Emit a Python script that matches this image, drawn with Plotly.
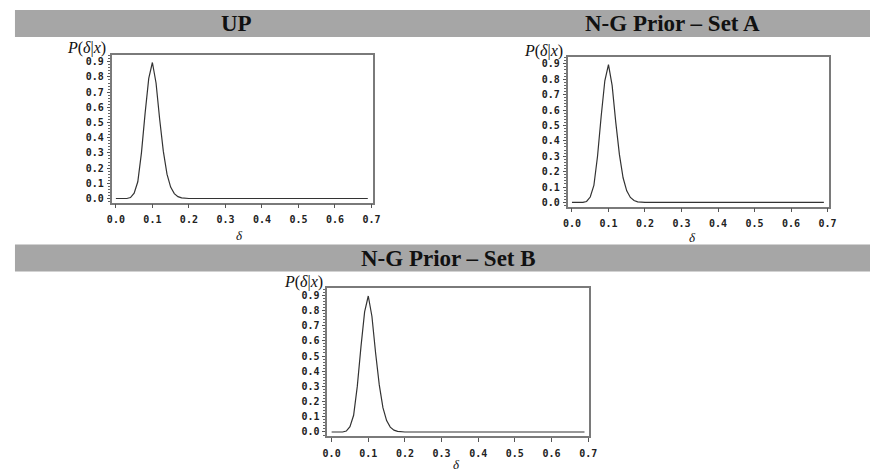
import plotly.graph_objects as go

W, H = 878, 474
OFF = 8  # page body margin offset in the browser
FW, FH = W - OFF, H - OFF

# ---- data ----
delta = [round(0.01 * i, 2) for i in range(70)]  # 0.00 .. 0.69
up_density = [0, 0, 0, 0, 0.006, 0.035, 0.11, 0.30, 0.56, 0.79, 0.895,
              0.76, 0.52, 0.31, 0.16, 0.075, 0.032, 0.012, 0.004] + [0] * 51
set_a_density = [0, 0, 0, 0, 0.006, 0.035, 0.11, 0.30, 0.56, 0.79, 0.895,
                 0.76, 0.52, 0.31, 0.16, 0.075, 0.032, 0.012, 0.004] + [0] * 51
set_b_density = [0, 0, 0, 0, 0.006, 0.035, 0.11, 0.30, 0.56, 0.79, 0.895,
                 0.76, 0.52, 0.31, 0.16, 0.075, 0.032, 0.012, 0.004] + [0] * 51
panel_titles = ["UP", "N-G Prior \u2013 Set A", "N-G Prior \u2013 Set B"]
x_ticks = [0.0, 0.1, 0.2, 0.3, 0.4, 0.5, 0.6, 0.7]
y_ticks = [0.0, 0.1, 0.2, 0.3, 0.4, 0.5, 0.6, 0.7, 0.8, 0.9]

SERIF = "Liberation Serif, Times New Roman, DejaVu Serif, serif"

# ---- layout helpers (pixel boxes in the screenshot: left, right, top, bottom) ----
boxes = [(108, 373, 55, 203), (571, 836, 57, 207), (327, 593, 289, 437)]


def px(x):
    return (x - OFF) / FW


def py(y):
    return 1 - (y - OFF) / FH


fig = go.Figure()
series = [up_density, set_a_density, set_b_density]
for i, (ys, b) in enumerate(zip(series, boxes)):
    n = "" if i == 0 else str(i + 1)
    fig.add_trace(go.Scatter(x=delta, y=ys, mode="lines",
                             line=dict(color="#333333", width=1.2),
                             xaxis="x" + n, yaxis="y" + n, showlegend=False,
                             hoverinfo="skip"))
    l, r, t, bt = b
    axis_common = dict(showgrid=False, zeroline=False, showline=True,
                       linecolor="#7a7a7a", linewidth=1.5, mirror=True,
                       ticks="outside", tickcolor="#555", tickwidth=1,
                       tickfont=dict(family="DejaVu Sans Mono", size=10, color="#222",
                                     weight="bold"))
    fig.layout["xaxis" + n] = dict(axis_common, domain=[px(l), px(r)],
                                   anchor="y" + n, range=[-0.012, 0.703],
                                   tickvals=x_ticks, ticktext=[f"{v:.1f}" for v in x_ticks],
                                   ticklen=4, ticklabelstandoff=3)
    fig.layout["yaxis" + n] = dict(axis_common, domain=[py(bt), py(t)],
                                   anchor="x" + n, range=[-0.027, 0.945],
                                   tickvals=y_ticks, ticktext=[f"{v:.1f}" for v in y_ticks],
                                   ticklen=3, ticklabelstandoff=1,
                                   minor=dict(ticks="outside", dtick=0.02, ticklen=2,
                                              tickcolor="#666", tickwidth=1))

# header bands
for (y0, y1) in [(10, 37), (245, 272)]:
    fig.add_shape(type="rect", xref="paper", yref="paper",
                  x0=px(10), x1=px(878), y0=py(y1), y1=py(y0),
                  fillcolor="#a6a6a6", line=dict(width=0), layer="below")

title_pos = [(235, 24), (677, 24), (450, 259)]
for txt, (x, y) in zip(panel_titles, title_pos):
    fig.add_annotation(text=f"<b>{txt}</b>", x=px(x), y=py(y), xref="paper", yref="paper",
                       showarrow=False, xanchor="center", yanchor="middle",
                       font=dict(family=SERIF, size=23, color="#111"))

ylab_pos = [(83, 48), (547, 51), (303, 283)]
for (x, y) in ylab_pos:
    fig.add_annotation(text="<i>P</i>(<i>\u03b4</i>|<i>x</i>)", x=px(x), y=py(y),
                       xref="paper", yref="paper", showarrow=False,
                       xanchor="center", yanchor="middle",
                       font=dict(family=SERIF, size=16, color="#111"))

xlab_pos = [(238, 236), (698, 238), (458, 465)]
for (x, y) in xlab_pos:
    fig.add_annotation(text="<i>\u03b4</i>", x=px(x), y=py(y),
                       xref="paper", yref="paper", showarrow=False,
                       xanchor="center", yanchor="middle",
                       font=dict(family=SERIF, size=13, color="#111"))

fig.update_layout(width=FW, height=FH, margin=dict(l=0, r=0, t=0, b=0),
                  paper_bgcolor="white", plot_bgcolor="white")

fig.write_html("out.html")
